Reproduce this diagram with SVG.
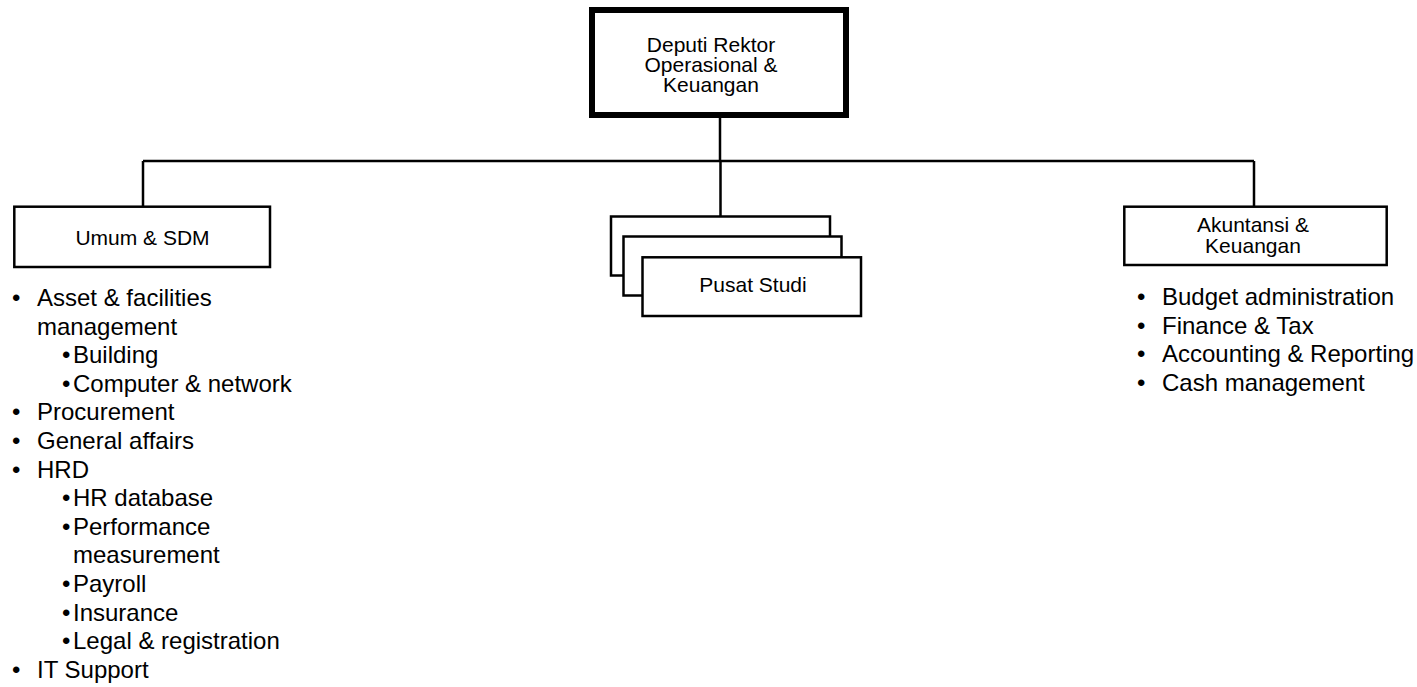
<svg xmlns="http://www.w3.org/2000/svg" width="1417" height="687" viewBox="0 0 1417 687">
<style>
.box{fill:#fff;stroke:#000;stroke-width:2.5}
.top{fill:#fff;stroke:#000;stroke-width:6}
.conn{fill:none;stroke:#000;stroke-width:2.5}
.lbl{font-family:"Liberation Sans",Arial,sans-serif;font-size:21px;fill:#000;text-anchor:middle}
.li{font-family:"Liberation Sans",Arial,sans-serif;font-size:24px;fill:#000}
</style>
<rect width="1417" height="687" fill="#fff"/>
<g id="connectors">
<path class="conn" d="M720 118V161M143 161H1254M143 161V206.7M720.5 161V216.5M1254 161V206.7"/>
</g>
<g id="deputi">
<rect class="top" x="592" y="10" width="254" height="105"/>
<text class="lbl" x="711"><tspan x="711" y="52">Deputi Rektor</tspan><tspan x="711" y="72">Operasional &amp;</tspan><tspan x="711" y="92">Keuangan</tspan></text>
</g>
<g id="umum">
<rect class="box" x="14.3" y="206.7" width="255.7" height="60.3"/>
<text class="lbl" x="142.5" y="245">Umum &amp; SDM</text>
</g>
<g id="umum-list" class="li">
<text x="12" y="306">•</text><text x="37" y="306">Asset &amp; facilities</text>
<text x="37" y="334.6">management</text>
<text x="62" y="363.2">•</text><text x="73" y="363.2">Building</text>
<text x="62" y="391.8">•</text><text x="73" y="391.8">Computer &amp; network</text>
<text x="12" y="420.4">•</text><text x="37" y="420.4">Procurement</text>
<text x="12" y="449">•</text><text x="37" y="449">General affairs</text>
<text x="12" y="477.6">•</text><text x="37" y="477.6">HRD</text>
<text x="62" y="506.2">•</text><text x="73" y="506.2">HR database</text>
<text x="62" y="534.8">•</text><text x="73" y="534.8">Performance</text>
<text x="73" y="563.4">measurement</text>
<text x="62" y="592">•</text><text x="73" y="592">Payroll</text>
<text x="62" y="620.6">•</text><text x="73" y="620.6">Insurance</text>
<text x="62" y="649.2">•</text><text x="73" y="649.2">Legal &amp; registration</text>
<text x="12" y="677.8">•</text><text x="37" y="677.8">IT Support</text>
</g>
<g id="pusat-studi">
<rect class="box" x="611" y="216.5" width="219" height="59"/>
<rect class="box" x="623.5" y="236.5" width="218" height="59"/>
<rect class="box" x="642.5" y="257.3" width="218.5" height="58.7"/>
<text class="lbl" x="753" y="292">Pusat Studi</text>
</g>
<g id="akuntansi">
<rect class="box" x="1124.3" y="206.7" width="262.4" height="58.3"/>
<text class="lbl"><tspan x="1253" y="232">Akuntansi &amp;</tspan><tspan x="1253" y="253">Keuangan</tspan></text>
</g>
<g id="akuntansi-list" class="li">
<text x="1137" y="305">•</text><text x="1162" y="305">Budget administration</text>
<text x="1137" y="333.6">•</text><text x="1162" y="333.6">Finance &amp; Tax</text>
<text x="1137" y="362.2">•</text><text x="1162" y="362.2">Accounting &amp; Reporting</text>
<text x="1137" y="390.8">•</text><text x="1162" y="390.8">Cash management</text>
</g>
</svg>
